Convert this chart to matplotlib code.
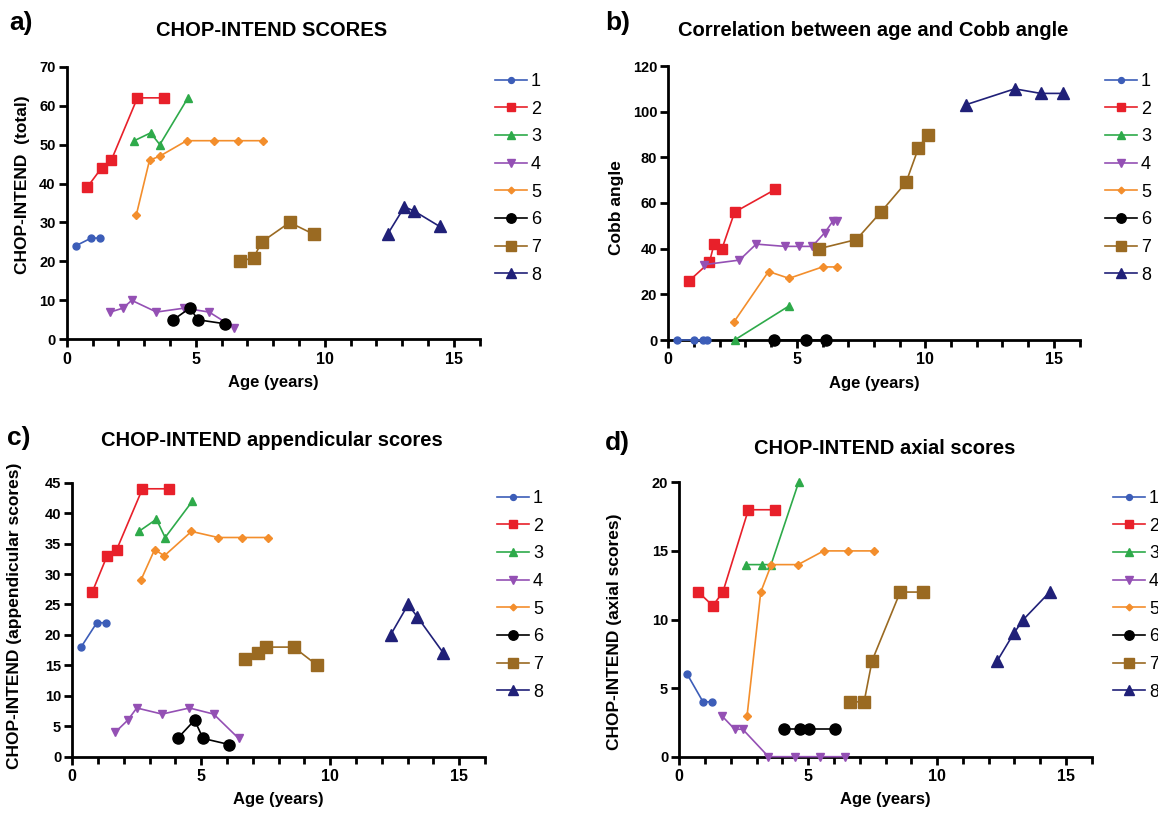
import matplotlib
matplotlib.use("Agg")
import matplotlib.pyplot as plt
from matplotlib.ticker import MultipleLocator
from matplotlib.lines import Line2D

plt.rcParams['font.family'] = ['Liberation Sans', 'DejaVu Sans']

W, H = 1158, 815

labels = ['1', '2', '3', '4', '5', '6', '7', '8']
colors = ['#3c5db8', '#e8202a', '#2eaa4a', '#9450b4', '#f38e2c', '#000000', '#9a6a22', '#202078']
markers = ['o', 's', '^', 'v', 'D', 'o', 's', '^']
msizes = [5, 7, 6, 6, 4, 8, 9, 9]

# ---- Panel a: CHOP-INTEND total ----
a_age = [
    [0.35, 0.95, 1.31],
    [0.79, 1.35, 1.73, 2.74, 3.78],
    [2.62, 3.25, 3.61, 4.70],
    [1.69, 2.18, 2.52, 3.48, 4.55, 5.52, 6.48],
    [2.70, 3.21, 3.60, 4.65, 5.69, 6.64, 7.62],
    [4.13, 4.77, 5.10, 6.12],
    [6.73, 7.25, 7.56, 8.64, 9.57],
    [12.44, 13.09, 13.45, 14.45],
]
a_val = [
    [24, 26, 26],
    [39, 44, 46, 62, 62],
    [51, 53, 50, 62],
    [7, 8, 10, 7, 8, 7, 3],
    [32, 46, 47, 51, 51, 51, 51],
    [5, 8, 5, 4],
    [20, 21, 25, 30, 27],
    [27, 34, 33, 29],
]

# ---- Panel b: Cobb angle ----
b_age = [
    [0.35, 1.00, 1.34, 1.52],
    [0.82, 1.60, 1.78, 2.09, 2.58, 4.17],
    [2.58, 4.71],
    [1.40, 2.77, 3.42, 4.53, 5.08, 5.60, 6.09, 6.40, 6.56],
    [2.56, 3.90, 4.70, 6.00, 6.58],
    [4.13, 5.35, 6.13],
    [5.87, 7.32, 8.27, 9.25, 9.73, 10.09],
    [11.57, 13.48, 14.49, 15.36],
]
b_val = [
    [0, 0, 0, 0],
    [26, 34, 42, 40, 56, 66],
    [0, 15],
    [33, 35, 42, 41, 41, 41, 47, 52, 52],
    [8, 30, 27, 32, 32],
    [0, 0, 0],
    [40, 44, 56, 69, 84, 90],
    [103, 110, 108, 108],
]

# ---- Panel c: appendicular ----
c_age = [
    [0.34, 0.95, 1.30],
    [0.77, 1.35, 1.72, 2.72, 3.74],
    [2.58, 3.26, 3.60, 4.66],
    [1.66, 2.15, 2.50, 3.48, 4.54, 5.48, 6.45],
    [2.66, 3.19, 3.57, 4.62, 5.65, 6.58, 7.59],
    [4.08, 4.74, 5.07, 6.08],
    [6.68, 7.20, 7.51, 8.58, 9.50],
    [12.34, 13.02, 13.37, 14.39],
]
c_val = [
    [18, 22, 22],
    [27, 33, 34, 44, 44],
    [37, 39, 36, 42],
    [4, 6, 8, 7, 8, 7, 3],
    [29, 34, 33, 37, 36, 36, 36],
    [3, 6, 3, 2],
    [16, 17, 18, 18, 15],
    [20, 25, 23, 17],
]

# ---- Panel d: axial ----
d_age = [
    [0.31, 0.92, 1.25],
    [0.74, 1.30, 1.69, 2.68, 3.70],
    [2.57, 3.21, 3.56, 4.63],
    [1.64, 2.15, 2.46, 3.46, 4.50, 5.46, 6.43],
    [2.63, 3.16, 3.57, 4.61, 5.60, 6.55, 7.55],
    [4.06, 4.70, 5.05, 6.05],
    [6.63, 7.17, 7.48, 8.57, 9.47],
    [12.34, 12.98, 13.35, 14.37],
]
d_val = [
    [6, 4, 4],
    [12, 11, 12, 18, 18],
    [14, 14, 14, 20],
    [3, 2, 2, 0, 0, 0, 0],
    [3, 12, 14, 14, 15, 15, 15],
    [2, 2, 2, 2],
    [4, 4, 7, 12, 12],
    [7, 9, 10, 12],
]

fig = plt.figure(figsize=(W / 100, H / 100), dpi=100)


def ax_at(left, top, right, bottom):
    return fig.add_axes([left / W, 1 - bottom / H, (right - left) / W, (bottom - top) / H])


def style(ax, ymax, ystep, ylabel, ylab_xy):
    ax.set_xlim(0, 16)
    ax.set_ylim(0, ymax)
    ax.xaxis.set_major_locator(MultipleLocator(5))
    ax.xaxis.set_minor_locator(MultipleLocator(1))
    ax.yaxis.set_major_locator(MultipleLocator(ystep))
    for s in ['top', 'right']:
        ax.spines[s].set_visible(False)
    for s in ['left', 'bottom']:
        ax.spines[s].set_linewidth(2)
    ax.tick_params(which='major', length=6, width=2, direction='out')
    ax.tick_params(which='minor', length=5, width=2, direction='out')
    ax.tick_params(axis='x', labelsize=11.5, pad=3)
    ax.tick_params(axis='y', labelsize=10.5, pad=2)
    for t in ax.get_xticklabels() + ax.get_yticklabels():
        t.set_fontweight('bold')
    ax.set_xlabel('Age (years)', fontsize=12, fontweight='bold', va='center')
    ax.xaxis.set_label_coords(0.5, -0.157)
    ax.set_ylabel(ylabel, fontsize=12.5, fontweight='bold', va='center')
    ax.yaxis.set_label_coords(*ylab_xy)


def draw(ax, ages, vals):
    for i in range(8):
        ax.plot(ages[i], vals[i], color=colors[i], marker=markers[i], ms=msizes[i],
                lw=1.2, clip_on=False, zorder=3)


def legend(x, y):
    handles = [Line2D([], [], color=colors[i], marker=markers[i], ms=msizes[i] * 0.85, lw=1.2)
               for i in range(8)]
    fig.legend(handles, labels, loc='upper left', bbox_to_anchor=(x / W, 1 - y / H),
               frameon=False, fontsize=13, labelspacing=0.59, handlelength=1.75,
               handletextpad=0.25, borderaxespad=0, borderpad=0)


axa = ax_at(66.7, 66.7, 479.5, 339.3)
draw(axa, a_age, a_val)
style(axa, 70, 10, 'CHOP-INTEND  (total)', (-0.108, 0.566))
legend(495, 73)

axb = ax_at(668.3, 66, 1079.5, 340)
draw(axb, b_age, b_val)
style(axb, 120, 20, 'Cobb angle', (-0.125, 0.485))
legend(1105, 73)

axc = ax_at(72.3, 482.7, 485, 756.7)
draw(axc, c_age, c_val)
style(axc, 45, 5, 'CHOP-INTEND (appendicular scores)', (-0.139, 0.513))
legend(497, 490)

axd = ax_at(679.3, 482.3, 1091.7, 756.7)
draw(axd, d_age, d_val)
style(axd, 20, 5, 'CHOP-INTEND (axial scores)', (-0.156, 0.454))
legend(1113, 490)

# Titles and panel letters
fig.text(272 / W, 1 - 30 / H, 'CHOP-INTEND SCORES', ha='center', va='center',
         fontsize=14.5, fontweight='bold')
fig.text(873 / W, 1 - 30 / H, 'Correlation between age and Cobb angle', ha='center', va='center',
         fontsize=14.5, fontweight='bold')
fig.text(272 / W, 1 - 441 / H, 'CHOP-INTEND appendicular scores', ha='center', va='center',
         fontsize=14.5, fontweight='bold')
fig.text(885 / W, 1 - 448 / H, 'CHOP-INTEND axial scores', ha='center', va='center',
         fontsize=14.5, fontweight='bold')

fig.text(9 / W, 1 - 23 / H, 'a)', ha='left', va='center', fontsize=19, fontweight='bold')
fig.text(605 / W, 1 - 23 / H, 'b)', ha='left', va='center', fontsize=19, fontweight='bold')
fig.text(7 / W, 1 - 438 / H, 'c)', ha='left', va='center', fontsize=19, fontweight='bold')
fig.text(605 / W, 1 - 443 / H, 'd)', ha='left', va='center', fontsize=19, fontweight='bold')

fig.savefig('out.png', dpi=100)
